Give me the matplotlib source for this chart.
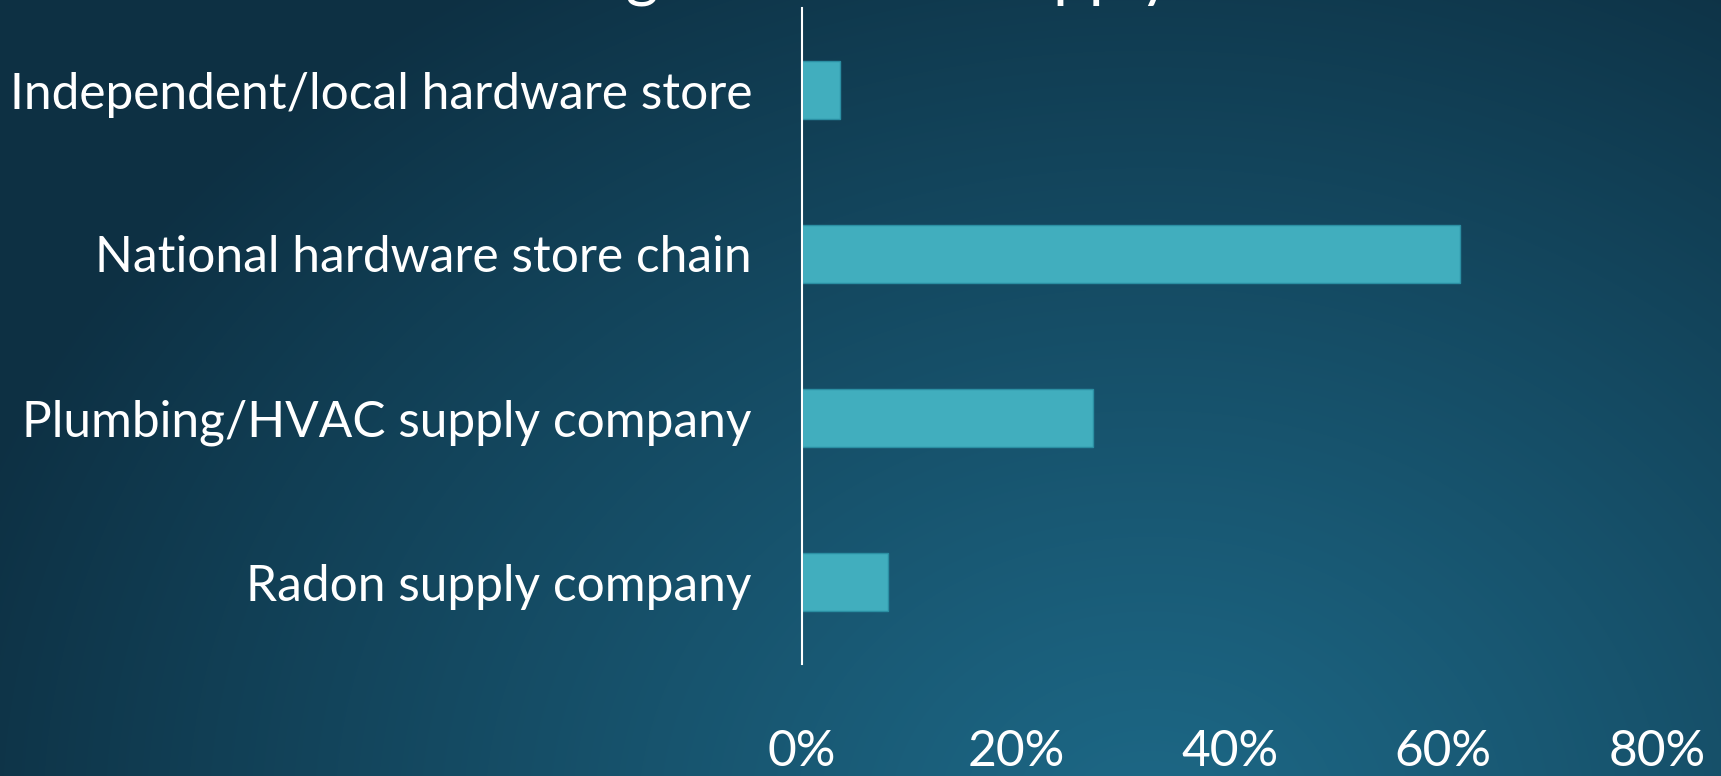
import numpy as np
import matplotlib
matplotlib.use("Agg")
import matplotlib.pyplot as plt

# ---- data ----
categories = ["Independent/local hardware store",
              "National hardware store chain",
              "Plumbing/HVAC supply company",
              "Radon supply company"]
values = [3.6, 61.6, 27.2, 8.0]
xticks = [0, 20, 40, 60, 80]
xtick_labels = ["0%", "20%", "40%", "60%", "80%"]
title_text = "Purchasing location of supply"

W, H = 1721, 776
FONT = "Lato"

fig = plt.figure(figsize=(W / 100, H / 100), dpi=100)

# background radial gradient
bg = fig.add_axes([0, 0, 1, 1])
bg.axis("off")
yy, xx = np.mgrid[0:H, 0:W]
d = np.hypot((xx - 1150) / 1.25, (yy - 820)) / 1000.0
t = np.clip(d, 0, 1) ** 1.1
c0 = np.array([29, 104, 134]) / 255.0
c1 = np.array([13, 48, 67]) / 255.0
img = c0 * (1 - t[..., None]) + c1 * t[..., None]
bg.imshow(img, extent=[0, 1, 0, 1], aspect="auto", origin="upper")
bg.set_xlim(0, 1)
bg.set_ylim(0, 1)

# fit label font size to the reference width
fig.canvas.draw()
renderer = fig.canvas.get_renderer()
probe = fig.text(0, 0, categories[0], fontsize=40, family=FONT)
w40 = probe.get_window_extent(renderer).width
probe.remove()
fs = 40 * 741.0 / w40

ax = fig.add_axes([802 / W, 1 - 664 / H, (1657 - 802) / W, (664 - 8) / H])
ax.patch.set_alpha(0)
ax.barh(range(len(categories)), values, height=0.354,
        color="#41aebe", edgecolor="#2b8fa3", linewidth=1.0)
ax.set_ylim(len(categories) - 0.5, -0.5)
ax.set_xlim(0, 80)
for s in ["top", "right", "bottom"]:
    ax.spines[s].set_visible(False)
ax.spines["left"].set_color("white")
ax.spines["left"].set_linewidth(1.5)

ax.set_yticks(range(len(categories)))
ax.set_yticklabels(categories, fontsize=fs, color="white", family=FONT)
ax.set_xticks(xticks)
ax.set_xticklabels(xtick_labels, fontsize=fs, color="white", family=FONT)
ax.tick_params(axis="y", length=0, pad=50 * 0.72)
ax.tick_params(axis="x", length=0, pad=102 * 0.72)
for lbl in ax.get_xticklabels():
    lbl.set_va("baseline")

# title (mostly above the visible area, only descenders show)
tfs = fs * 1.29
probe = fig.text(0, 0, "Purchasin", fontsize=tfs, family=FONT)
wpre = probe.get_window_extent(renderer).width
probe.remove()
desc_px = 0.2 * tfs * 100 / 72
fig.text((626 - wpre) / W, 1 + (desc_px - 7) / H, title_text,
         fontsize=tfs, family=FONT, color="white", ha="left", va="baseline")

fig.savefig("out.png", dpi=100)
